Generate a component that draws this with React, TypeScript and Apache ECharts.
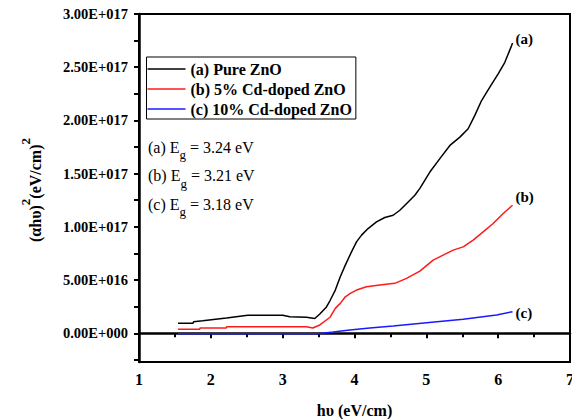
import React, { useEffect, useRef } from "react";
import * as echarts from "echarts";

// values: [hν (eV), (αhν)^2 in units of 1E16]
const seriesNames = ["(a) Pure ZnO", "(b) 5% Cd-doped ZnO", "(c) 10% Cd-doped ZnO"];
const endTags = ["(a)", "(b)", "(c)"];
const seriesColors = ["#000000", "#ff1a1a", "#1a1aff"];

const pureZnO: [number, number][] = [
  [1.543, 0.94], [1.752, 0.94], [1.76, 1.09], [1.887, 1.18], [2.217, 1.43], [2.514, 1.69],
  [3.001, 1.69], [3.099, 1.56], [3.331, 1.5], [3.447, 1.39], [3.517, 1.81], [3.61, 2.47],
  [3.656, 3.03], [3.733, 4.06], [3.802, 5.31], [3.872, 6.4], [3.958, 7.65], [4.028, 8.59],
  [4.098, 9.22], [4.189, 9.84], [4.306, 10.46], [4.422, 10.88], [4.538, 11.09], [4.631, 11.56],
  [4.747, 12.34], [4.84, 12.97], [4.91, 13.62], [5.049, 15.15], [5.188, 16.41], [5.328, 17.65],
  [5.467, 18.43], [5.582, 19.22], [5.675, 20.47], [5.769, 21.87], [5.884, 23.12], [6.0, 24.38],
  [6.093, 25.46], [6.187, 27.03], [6.2, 27.28],
];

const cd5ZnO: [number, number][] = [
  [1.543, 0.375], [1.845, 0.375], [1.85, 0.5], [2.217, 0.5], [2.22, 0.62], [3.331, 0.62],
  [3.419, 0.5], [3.517, 0.78], [3.656, 1.48], [3.733, 2.34], [3.802, 2.81], [3.872, 3.43],
  [3.942, 3.75], [4.028, 4.06], [4.167, 4.37], [4.352, 4.53], [4.561, 4.69], [4.724, 5.16],
  [4.91, 5.84], [5.095, 6.87], [5.234, 7.34], [5.373, 7.81], [5.513, 8.12], [5.652, 8.75],
  [5.791, 9.53], [5.93, 10.31], [6.07, 11.25], [6.2, 12.03],
];

const cd10ZnO: [number, number][] = [
  [1.543, -0.05], [3.493, -0.05], [3.702, 0.12], [3.935, 0.31], [4.213, 0.5], [4.538, 0.68],
  [5.003, 0.99], [5.513, 1.31], [5.978, 1.72], [6.2, 2.03],
];

const bandGaps = ["3.24", "3.21", "3.18"];
const bandTags = ["(a)", "(b)", "(c)"];

const yLabelValues = [0, 5e16, 1e17, 1.5e17, 2e17, 2.5e17, 3e17];
const yTickValues = [-2.5e16, 0, 2.5e16, 5e16, 7.5e16, 1e17, 1.25e17, 1.5e17, 1.75e17, 2e17, 2.25e17, 2.5e17, 2.75e17, 3e17];

const SCALE = 1e16;
const FONT = "'Liberation Serif', 'Times New Roman', serif";

function fmtSci(v: number): string {
  if (Math.abs(v) < 1) return "0.00E+000";
  const exp = Math.floor(Math.log10(Math.abs(v)) + 1e-9);
  const m = v / Math.pow(10, exp);
  return m.toFixed(2) + "E+" + String(exp).padStart(3, "0");
}

export default function App() {
  const ref = useRef<HTMLDivElement>(null);
  useEffect(() => {
    if (!ref.current) return;
    const chart = echarts.init(ref.current, undefined, { renderer: "svg" });
    const datasets = [pureZnO, cd5ZnO, cd10ZnO];
    const endOffsets = [[0, -4], [0, -8], [0, 1]];
    const series = datasets.map((d, i) => ({
      name: seriesNames[i],
      type: "line",
      data: d.map(([x, y]) => [x, y * SCALE]),
      symbol: "none",
      lineStyle: { color: seriesColors[i], width: 1.5 },
      itemStyle: { color: seriesColors[i] },
      endLabel: {
        show: true,
        formatter: endTags[i],
        color: "#000",
        fontFamily: FONT,
        fontWeight: "bold",
        fontSize: 15,
        distance: 3,
        offset: endOffsets[i],
      },
    }));

    const egText = (i: number) => ({
      type: "text",
      left: 148,
      top: 139 + i * 28.5,
      style: {
        text: `{n|${bandTags[i]} E}{s|g}{n| = ${bandGaps[i]} eV}`,
        rich: {
          n: { fontFamily: FONT, fontSize: 16, lineHeight: 18, verticalAlign: "top", fill: "#000" },
          s: { fontFamily: FONT, fontSize: 13, lineHeight: 13, verticalAlign: "top", padding: [9, 0, 0, 0], fill: "#000" },
        },
      },
    });

    chart.setOption({
      animation: false,
      backgroundColor: "#fff",
      grid: {
        left: 139,
        right: 2,
        top: 14,
        bottom: 57,
        containLabel: false,
        outerBoundsMode: "none",
        show: true,
        borderColor: "#000",
        borderWidth: 2,
        backgroundColor: "transparent",
      },
      legend: {
        orient: "vertical",
        left: 146.5,
        top: 57,
        padding: [4, 4, 2, 1],
        icon: "rect",
        itemWidth: 38,
        itemHeight: 1.5,
        itemGap: 4,
        borderColor: "#000",
        borderWidth: 1,
        textStyle: { fontFamily: FONT, fontWeight: "bold", fontSize: 16, lineHeight: 16, color: "#000" },
        data: seriesNames,
      },
      xAxis: {
        type: "value",
        min: 1,
        max: 7,
        interval: 1,
        name: "hυ (eV/cm)",
        nameLocation: "middle",
        nameGap: 40,
        nameTextStyle: { fontFamily: FONT, fontWeight: "bold", fontSize: 16, color: "#000" },
        axisLine: { show: true, lineStyle: { color: "#000", width: 2.5 } },
        axisTick: { show: true, inside: false, length: 5, lineStyle: { color: "#000", width: 2 } },
        minorTick: { show: true, splitNumber: 2, length: 4, lineStyle: { color: "#000", width: 2 } },
        axisLabel: { margin: 9, fontFamily: FONT, fontWeight: "bold", fontSize: 16, color: "#000" },
        splitLine: { show: false },
      },
      yAxis: {
        type: "value",
        min: -2.7e16,
        max: 3e17,
        axisLine: { show: true, lineStyle: { color: "#000", width: 2.5 } },
        axisTick: {
          show: true,
          inside: false,
          length: 5,
          customValues: yTickValues,
          lineStyle: { color: "#000", width: 2 },
        },
        axisLabel: {
          margin: 11,
          customValues: yLabelValues,
          formatter: (v: number) => fmtSci(v),
          fontFamily: FONT,
          fontWeight: "bold",
          fontSize: 14.5,
          color: "#000",
        },
        splitLine: { show: false },
      },
      graphic: [
        {
          type: "text",
          x: 31,
          y: 190,
          rotation: Math.PI / 2,
          style: {
            text: "{b|(αhυ)}{p|2}{b|(eV/cm)}{p|2}",
            align: "center",
            verticalAlign: "middle",
            rich: {
              b: { fontFamily: FONT, fontWeight: "bold", fontSize: 16, lineHeight: 24, verticalAlign: "bottom", fill: "#000" },
              p: { fontFamily: FONT, fontWeight: "bold", fontSize: 13, lineHeight: 13, verticalAlign: "top", fill: "#000" },
            },
          },
        },
        egText(0),
        egText(1),
        egText(2),
      ],
      series,
    });
    return () => chart.dispose();
  }, []);
  return (
    <div
      ref={ref}
      style={{ position: "fixed", left: 0, top: 0, width: 572, height: 419 }}
    />
  );
}
